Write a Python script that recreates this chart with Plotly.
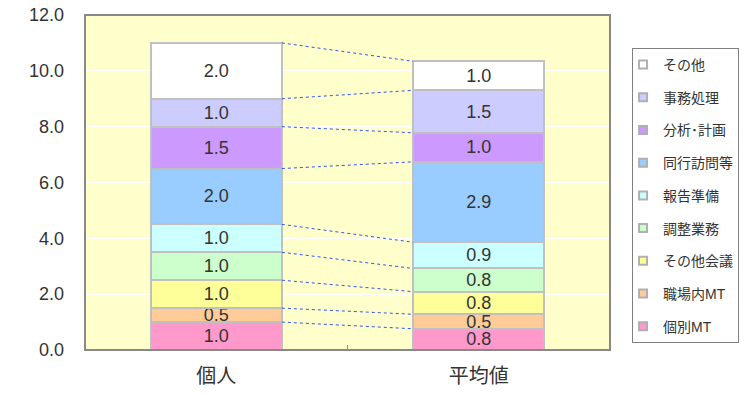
import plotly.graph_objects as go

categories = ["個人", "平均値"]
series_names = ["個別MT", "職場内MT", "その他会議", "調整業務", "報告準備",
                "同行訪問等", "分析･計画", "事務処理", "その他"]
kojin = [1.0, 0.5, 1.0, 1.0, 1.0, 2.0, 1.5, 1.0, 2.0]
heikin = [0.76, 0.52, 0.81, 0.83, 0.94, 2.88, 1.04, 1.52, 1.04]
colors = ["#FF99CC", "#FFCC99", "#FFFF99", "#CCFFCC", "#CCFFFF",
          "#99CCFF", "#CC99FF", "#CCCCFF", "#FFFFFF"]
y_ticks = [0, 2, 4, 6, 8, 10, 12]

FONT = "Liberation Sans, Noto Sans CJK JP"
TXT = "#333333"
n = len(series_names)

fig = go.Figure()
for i, name in enumerate(series_names):
    fig.add_trace(go.Bar(
        x=categories, y=[kojin[i], heikin[i]], name=name,
        marker=dict(color=colors[i], line=dict(color="#C0C0C0", width=2)),
        width=0.5,
        text=[f"{kojin[i]:.1f}", f"{heikin[i]:.1f}"],
        textposition="inside", insidetextanchor="middle",
        constraintext="none", textangle=0,
        textfont=dict(family=FONT, size=18, color=TXT),
        showlegend=False,
        hoverinfo="skip",
    ))
    # legend entry with a small square symbol
    fig.add_trace(go.Scatter(
        x=[None], y=[None], mode="markers", name=name,
        marker=dict(symbol="square", size=8, color=colors[i],
                    line=dict(color="#B0B0B0", width=2)),
        legendgroup=name, legendrank=n - i, showlegend=True,
    ))

# dotted connector lines between cumulative boundaries
cl, cr = 0.0, 0.0
for a, b in zip(kojin, heikin):
    cl += a
    cr += b
    fig.add_shape(type="line", xref="x", yref="y", x0=0.25, x1=0.75, y0=cl, y1=cr,
                  line=dict(color="#3355EE", width=1, dash="dot"), layer="above")

# frame
fig.add_shape(type="rect", xref="paper", yref="paper", x0=0, x1=1, y0=0, y1=1,
              line=dict(color="#888888", width=2), layer="above")

fig.update_layout(
    width=753, height=397,
    margin=dict(l=85, r=143, t=15, b=47, autoexpand=False),
    barmode="stack", bargap=0.5,
    plot_bgcolor="#FFFFCC", paper_bgcolor="#FFFFFF",
    font=dict(family=FONT, color=TXT),
    showlegend=True,
    legend=dict(
        x=1.042, xanchor="left", y=0.9015, yanchor="top",
        traceorder="grouped", tracegroupgap=11.5,
        bordercolor="#808080", borderwidth=1, bgcolor="#FFFFFF",
        font=dict(family=FONT, size=14, color=TXT),
        itemwidth=30, indentation=-10,
    ),
    xaxis=dict(
        type="category", range=[-0.5, 1.5], automargin=False,
        ticks="inside", tickson="boundaries", ticklen=5, tickcolor="#888888",
        tickfont=dict(family=FONT, size=20, color=TXT),
        ticklabelstandoff=12,
        showgrid=False, zeroline=False,
    ),
    yaxis=dict(
        range=[0, 12], tickvals=y_ticks, tickformat=".1f", automargin=False,
        tickfont=dict(family=FONT, size=18, color=TXT),
        ticklabelstandoff=20,
        showgrid=True, gridcolor="#FFFFFF", gridwidth=1,
        zeroline=False, ticks="",
    ),
)

fig.write_html("out.html")
